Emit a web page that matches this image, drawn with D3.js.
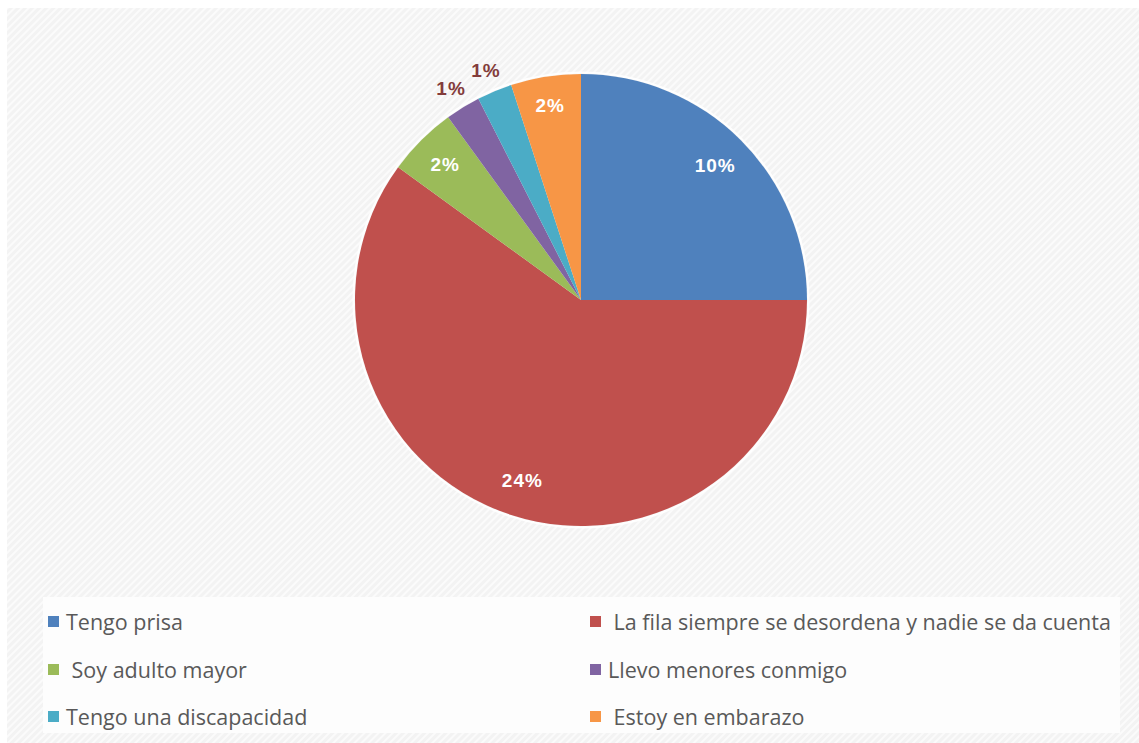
<!DOCTYPE html>
<html>
<head>
<meta charset="utf-8">
<script src="https://cdn.jsdelivr.net/npm/d3@7"></script>
<style>
  html, body { margin: 0; padding: 0; background: #ffffff; overflow: hidden; }
  svg { display: block; }
</style>
</head>
<body>
<svg id="chart" width="1139" height="743"></svg>
<script>
// Reasons given for not waiting in line
const categories = [
  "Tengo prisa",
  "La fila siempre se desordena y nadie se da cuenta",
  "Soy adulto mayor",
  "Llevo menores conmigo",
  "Tengo una discapacidad",
  "Estoy en embarazo"
];
const legendLabels = [
  "Tengo prisa",
  " La fila siempre se desordena y nadie se da cuenta",
  " Soy adulto mayor",
  "Llevo menores conmigo",
  "Tengo una discapacidad",
  " Estoy en embarazo"
];
const values = [10, 24, 2, 1, 1, 2];          // percent
const colors = ["#4F81BD", "#C0504D", "#9BBB59", "#8064A2", "#4BACC6", "#F79646"];
const titleText = "Necesidad de hacer la fila";

const svg = d3.select("#chart");
const W = 1139, H = 743;

// Diagonal striped background of the chart area
const defs = svg.append("defs");
const pat = defs.append("pattern")
  .attr("id", "stripes")
  .attr("patternUnits", "userSpaceOnUse")
  .attr("width", 5).attr("height", 5)
  .attr("patternTransform", "rotate(45)");
pat.append("rect").attr("width", 5).attr("height", 5).attr("fill", "#f3f3f3");
pat.append("rect").attr("width", 2).attr("height", 5).attr("fill", "#fbfbfb");

// Title, scrolled almost entirely above the visible area
svg.append("text")
  .attr("x", 28).attr("y", 0)
  .attr("font-family", "Liberation Sans, Arial, sans-serif")
  .attr("font-size", 22)
  .attr("font-weight", "bold")
  .attr("fill", "#595959")
  .text(titleText);

svg.append("rect")
  .attr("x", 7).attr("y", 8)
  .attr("width", W - 7).attr("height", H - 8)
  .attr("fill", "url(#stripes)");

// Pie
const cx = 581, cy = 300, R = 226;
const pie = d3.pie().sort(null).value(d => d)(values);
const arc = d3.arc().innerRadius(0).outerRadius(R);

const g = svg.append("g").attr("transform", `translate(${cx},${cy})`);

g.append("circle").attr("r", R + 1.5).attr("fill", "none")
  .attr("stroke", "#ffffff").attr("stroke-opacity", 0.9).attr("stroke-width", 2);

g.selectAll("path.slice")
  .data(pie)
  .join("path")
  .attr("class", "slice")
  .attr("d", arc)
  .attr("fill", (d, i) => colors[i]);

// Data labels: inside for larger slices, outside for the two smallest
const labelRadius = [0.84, 0.84, 0.85, 1.1, 1.1, 0.87];
const isOutside = i => labelRadius[i] > 1;

g.selectAll("text.lbl")
  .data(pie)
  .join("text")
  .attr("class", "lbl")
  .attr("transform", (d, i) => {
    const r = R * labelRadius[i];
    return `translate(${d3.arc().innerRadius(r).outerRadius(r).centroid(d)})`;
  })
  .attr("text-anchor", "middle")
  .attr("dy", "0.35em")
  .attr("font-family", "Liberation Sans, Arial, sans-serif")
  .attr("font-weight", "bold")
  .attr("font-size", 19)
  .attr("letter-spacing", 1)
  .attr("fill", (d, i) => isOutside(i) ? "#833C3B" : "#ffffff")
  .text(d => d.data + "%");

// Legend
const legend = svg.append("g");
legend.append("rect")
  .attr("x", 43).attr("y", 597)
  .attr("width", 1077).attr("height", 136)
  .attr("fill", "#fdfdfd");

const colX = [48, 590];
const rowY = [622, 670, 717];
const items = legend.selectAll("g.item")
  .data(categories)
  .join("g")
  .attr("class", "item")
  .attr("transform", (d, i) => `translate(${colX[i % 2]},${rowY[Math.floor(i / 2)]})`);

items.append("rect")
  .attr("x", 0).attr("y", -6)
  .attr("width", 11).attr("height", 11)
  .attr("fill", (d, i) => colors[i]);

items.append("text")
  .attr("x", 18)
  .attr("dy", "0.35em")
  .attr("font-family", "Open Sans, sans-serif")
  .attr("font-size", 21.5)
  .attr("fill", "#595959")
  .attr("xml:space", "preserve")
  .style("white-space", "pre")
  .text((d, i) => legendLabels[i]);
</script>
</body>
</html>
